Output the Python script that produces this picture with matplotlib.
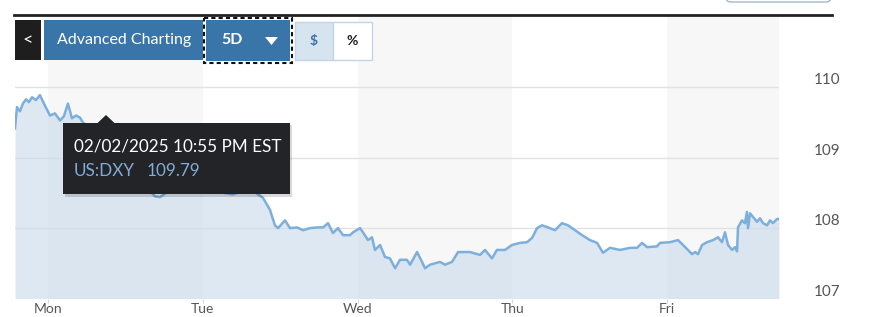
import matplotlib
matplotlib.use("Agg")
import matplotlib.pyplot as plt
from matplotlib.patches import Rectangle, Polygon, FancyBboxPatch

plt.rcParams['font.family'] = ['Lato', 'DejaVu Sans']

# time in days from Monday 00:00, US:DXY value
days = [-0.213, -0.200, -0.181, -0.162, -0.142, -0.123, -0.103, -0.078, -0.052, -0.026,
        0.013, 0.045, 0.078, 0.103, 0.129, 0.155, 0.181, 0.207, 0.226, 0.252,
        0.271, 0.336, 0.433, 0.530, 0.627, 0.691, 0.724, 0.788, 0.885, 0.982,
        1.079, 1.195, 1.273, 1.337, 1.389, 1.434, 1.466, 1.486, 1.531, 1.563,
        1.609, 1.647, 1.693, 1.738, 1.777, 1.809, 1.841, 1.873, 1.906, 1.951,
        1.970, 2.016, 2.035, 2.067, 2.093, 2.112, 2.145, 2.177, 2.209, 2.242,
        2.274, 2.319, 2.339, 2.384, 2.416, 2.435, 2.468, 2.500, 2.532, 2.565,
        2.610, 2.649, 2.707, 2.726, 2.791, 2.823, 2.868, 2.900, 2.952, 2.997,
        3.049, 3.094, 3.127, 3.159, 3.191, 3.230, 3.275, 3.320, 3.359, 3.404,
        3.450, 3.501, 3.547, 3.585, 3.630, 3.695, 3.760, 3.805, 3.837, 3.870,
        3.934, 3.953, 4.018, 4.070, 4.102, 4.134, 4.160, 4.180, 4.199, 4.225,
        4.257, 4.296, 4.328, 4.354, 4.373, 4.393, 4.419, 4.438, 4.451, 4.457,
        4.483, 4.502, 4.515, 4.522, 4.535, 4.554, 4.580, 4.599, 4.619, 4.645,
        4.664, 4.683, 4.709, 4.722]
dxy = [109.42, 109.72, 109.66, 109.77, 109.83, 109.79, 109.86, 109.82, 109.89, 109.77,
       109.60, 109.63, 109.53, 109.59, 109.77, 109.56, 109.60, 109.57, 109.50, 109.46,
       109.43, 109.25, 108.96, 108.75, 108.61, 108.45, 108.44, 108.54, 108.60, 108.55,
       108.52, 108.48, 108.54, 108.51, 108.43, 108.26, 108.04, 108.00, 108.11, 108.00,
       108.01, 107.97, 108.00, 108.01, 108.01, 108.07, 107.93, 108.00, 107.90, 107.90,
       107.94, 108.00, 107.94, 107.83, 107.87, 107.69, 107.76, 107.59, 107.57, 107.43,
       107.55, 107.55, 107.48, 107.66, 107.52, 107.43, 107.48, 107.50, 107.52, 107.48,
       107.52, 107.66, 107.66, 107.66, 107.62, 107.69, 107.57, 107.69, 107.69, 107.76,
       107.79, 107.80, 107.86, 108.00, 108.04, 108.01, 107.97, 108.07, 108.04, 107.97,
       107.90, 107.83, 107.79, 107.65, 107.72, 107.69, 107.72, 107.72, 107.79, 107.73,
       107.74, 107.79, 107.80, 107.83, 107.76, 107.69, 107.63, 107.66, 107.63, 107.76,
       107.80, 107.83, 107.87, 107.80, 107.94, 107.76, 107.69, 107.73, 107.67, 108.01,
       108.11, 108.07, 108.23, 108.00, 108.21, 108.16, 108.09, 108.14, 108.07, 108.04,
       108.11, 108.07, 108.13, 108.13]

day_ticks = [0, 1, 2, 3, 4]
day_labels = ["Mon", "Tue", "Wed", "Thu", "Fri"]
y_ticks = [107, 108, 109, 110]

W, H = 870, 317
fig = plt.figure(figsize=(W / 100, H / 100), dpi=100)
ax = fig.add_axes([15 / W, 18.5 / H, 764 / W, 281.5 / H])

x0, x1 = -0.213, 4.722
for a, b in [(0, 1), (2, 3), (4, x1)]:
    ax.axvspan(a, b, color='#f7f7f7', lw=0, zorder=0)
for y in [108, 109, 110]:
    ax.axhline(y, color='#e2e2e2', lw=1, zorder=1)

ax.fill_between(days, dxy, 107, color='#c8daea', alpha=0.6, lw=0, zorder=2)
ax.plot(days, dxy, color='#7dafdc', lw=1.8, zorder=3)

ax.set_xlim(x0, x1)
ax.set_ylim(107, 111)
ax.set_xticks(day_ticks)
ax.set_xticklabels(day_labels)
ax.set_yticks(y_ticks)
ax.set_yticklabels([str(v) for v in y_ticks])
ax.yaxis.tick_right()
ax.tick_params(axis='x', length=3, color='#d8d8d8', labelcolor='#555555',
               labelsize=10, pad=0.5)
ax.tick_params(axis='y', length=0, labelcolor='#555555', labelsize=11, pad=25)
for lbl in ax.get_yticklabels():
    lbl.set_verticalalignment('bottom')
for s in ax.spines.values():
    s.set_visible(False)

# overlay in pixel space for the toolbar and tooltip
ov = fig.add_axes([0, 0, 1, 1], zorder=5)
ov.set_xlim(0, W)
ov.set_ylim(H, 0)
ov.axis('off')
ov.patch.set_alpha(0)

ov.plot([14, 832], [15, 15], color='#222222', lw=2)
ov.add_patch(FancyBboxPatch((726, -12), 105, 14, boxstyle='round,pad=0,rounding_size=5',
                            fc='white', ec='#9fb8cf', lw=1))

blue = '#3a75a9'
ov.add_patch(Rectangle((15, 20), 26, 40, fc='#1e1e1e', lw=0))
ov.text(28, 40, '<', color='white', fontsize=13, ha='center', va='center')
ov.add_patch(Rectangle((44, 20), 159, 40, fc=blue, lw=0))
ov.text(124, 40, 'Advanced Charting', color='white', fontsize=11.5, ha='center', va='center')
ov.add_patch(Rectangle((206, 20), 84, 41, fc=blue, lw=0))
ov.add_patch(Rectangle((204, 18), 88, 45, fill=False, ec='#111111', lw=1.5, ls=(0, (2, 1.5))))
ov.text(232, 40, '5D', color='white', fontsize=11.5, fontweight='bold', ha='center', va='center')
ov.add_patch(Polygon([(265, 37), (278, 37), (271.5, 45)], closed=True, fc='white', lw=0))
ov.add_patch(Rectangle((295, 22), 38, 38, fc='#d6e4f0', ec='#c3d5e5', lw=1))
ov.add_patch(Rectangle((333, 22), 39, 38, fc='white', ec='#c3d5e5', lw=1))
ov.text(314, 41, '$', color=blue, fontsize=10, fontweight='bold', ha='center', va='center')
ov.text(352.5, 41, '%', color='#222222', fontsize=10, fontweight='bold', ha='center', va='center')

# tooltip
ov.add_patch(Rectangle((65, 125), 227, 72, fc='#000000', alpha=0.15, lw=0))
ov.add_patch(Rectangle((63, 123), 227, 71, fc='#232427', lw=0))
ov.add_patch(Polygon([(97, 123.5), (106, 115), (115, 123.5)], closed=True, fc='#232427', lw=0))
ov.text(74, 146, '02/02/2025 10:55 PM EST', color='white', fontsize=12.3, ha='left', va='center')
ov.text(74, 171, 'US:DXY', color='#82abd6', fontsize=12.3, ha='left', va='center')
ov.text(147, 171, '109.79', color='#82abd6', fontsize=12.3, ha='left', va='center')

fig.savefig('out.png', dpi=100)
